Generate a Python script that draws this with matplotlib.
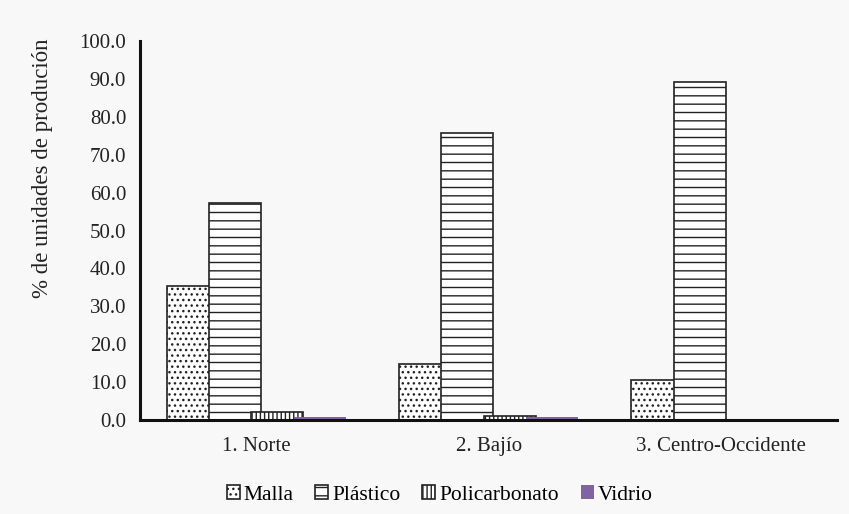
import numpy as np
import matplotlib
matplotlib.use("Agg")
import matplotlib.pyplot as plt

regiones = ["1. Norte", "2. Bajío", "3. Centro-Occidente"]
malla = [35.3, 14.8, 10.6]
plastico = [57.2, 75.7, 89.2]
policarbonato = [2.0, 1.0, 0.0]
vidrio = [0.9, 0.8, 0.0]

series = [
    ("Malla", malla, "...", "white"),
    ("Plástico", plastico, "--", "white"),
    ("Policarbonato", policarbonato, "||||", "white"),
    ("Vidrio", vidrio, None, "#8064A2"),
]

plt.rcParams["font.family"] = ["Liberation Serif", "DejaVu Serif"]
plt.rcParams["hatch.linewidth"] = 1.0

fig = plt.figure(figsize=(8.49, 5.14), dpi=100, facecolor="#f8f8f8")
ax = fig.add_axes([0.165, 0.183, 0.821, 0.737])
ax.set_facecolor("#f8f8f8")

x = np.arange(len(regiones))
paso = 0.182
ancho = 0.224
for i, (nombre, valores, patron, color) in enumerate(series):
    off = (i - 1.5) * paso
    if patron is None:
        ax.bar(x + off, valores, ancho, color=color, edgecolor=color,
               linewidth=0, label=nombre)
    else:
        ax.bar(x + off, valores, ancho, color=color, edgecolor="#222222",
               hatch=patron, linewidth=1.2, label=nombre)

ax.set_xlim(-0.5, 2.5)
ax.set_ylim(0, 100)
ax.set_yticks(np.arange(0, 101, 10))
ax.set_yticklabels(["%.1f" % v for v in np.arange(0, 101, 10)])
ax.set_xticks(x)
ax.set_xticklabels(regiones)
ax.tick_params(axis="both", length=0, labelsize=15, colors="#222222", pad=10)
ax.tick_params(axis="x", pad=12)
for s in ["top", "right"]:
    ax.spines[s].set_visible(False)
for s in ["left", "bottom"]:
    ax.spines[s].set_linewidth(2.2)
    ax.spines[s].set_color("#111111")
ax.set_ylabel("% de unidades de produción", fontsize=16.5, color="#222222")
ax.yaxis.set_label_coords(-0.125, 0.665)

ax.legend(loc="lower center", bbox_to_anchor=(0.43, -0.275), ncol=4, frameon=False,
          fontsize=15.5, handlelength=0.6, handleheight=0.6, handletextpad=0.2,
          columnspacing=1.0)

fig.savefig("out.png", dpi=100, facecolor=fig.get_facecolor())
